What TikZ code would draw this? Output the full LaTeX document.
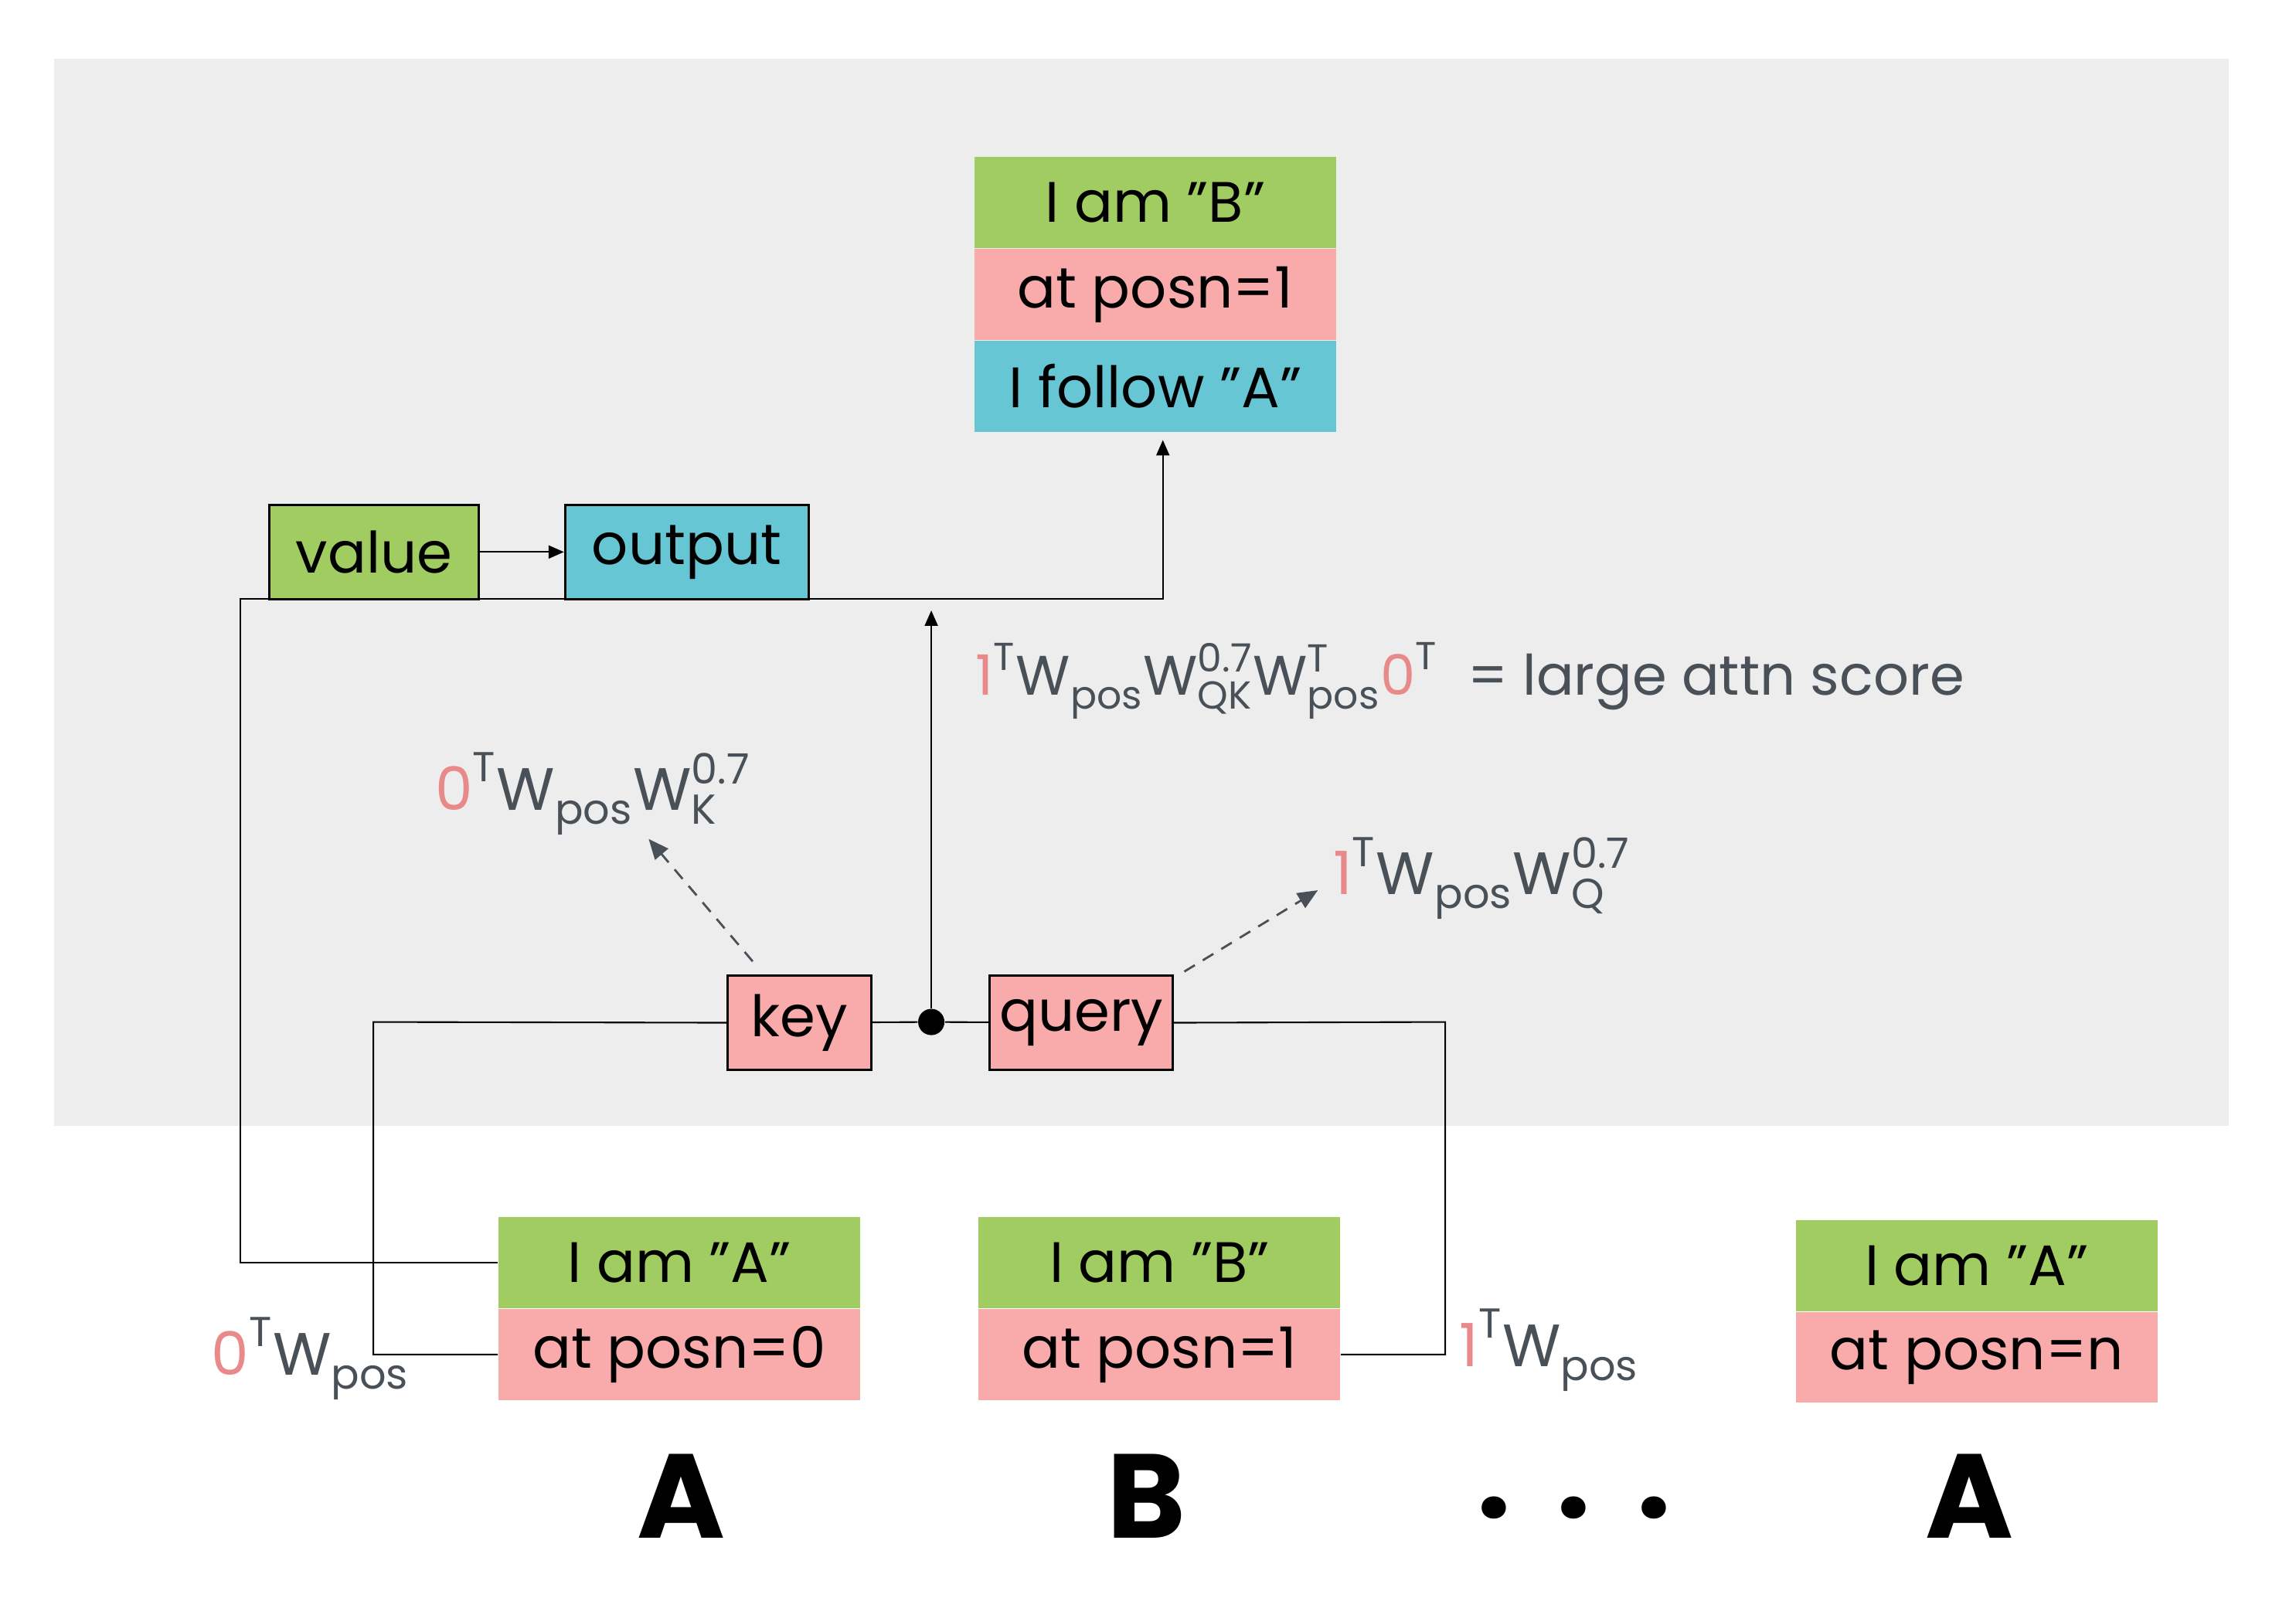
\documentclass[tikz,border=0pt]{standalone}
\usepackage{amsmath}
\usepackage{fontspec}
\setmainfont{Poppins}
\usetikzlibrary{arrows.meta,positioning}
\definecolor{bggrey}{HTML}{EDEDED}
\definecolor{idgreen}{HTML}{A1CC61}
\definecolor{pospink}{HTML}{F9ABAB}
\definecolor{prevblue}{HTML}{66C6D4}
\definecolor{inkgrey}{HTML}{495057}
\definecolor{numred}{HTML}{E88A8A}
% token index with a transpose mark, and a weight matrix
\newcommand{\tpos}[1]{\text{\textcolor{numred}{#1}}^{\text{T}}}
\newcommand{\wmat}[2]{\text{W}_{\text{#1}}^{\text{#2}}}
\tikzset{tokenrow/.style={
    % The shape:
    rectangle,
    % The size:
    minimum width=46.8mm,
    minimum height=11.75mm,
    inner sep=0pt,
    % Font
    font=\fontsize{21}{25}\selectfont
    },
    idrow/.style={tokenrow, fill=idgreen},
    posrow/.style={tokenrow, fill=pospink},
    prevrow/.style={tokenrow, fill=prevblue},
    headbox/.style={
    rectangle,
    draw=black,
    line width=0.8pt,
    minimum height=12.2mm,
    inner sep=0pt,
    font=\fontsize{21}{25}\selectfont
    },
    joindot/.style={circle, fill=black, inner sep=0pt, minimum size=3.4mm},
    projlabel/.style={inner sep=0pt, text=inkgrey, font=\fontsize{22}{26}\selectfont},
    bigletter/.style={inner sep=0pt, font=\fontsize{44}{48}\selectfont\bfseries},
    wire/.style={draw=black, line width=0.6pt},
    hint/.style={draw=inkgrey, line width=0.8pt, dash pattern=on 1.6mm off 1.2mm,
      -{Triangle[length=2.6mm,width=2.2mm]}},
}
\begin{document}
\begin{tikzpicture}[x=0.18948mm, y=-0.18948mm, node distance=0mm and 0mm,
    tip/.style={-{Triangle[length=2mm,width=1.7mm]}}]
    \useasboundingbox (0,0) rectangle (1568,1091);
    \fill[bggrey] (37,40) rectangle (1522,769);

    % output token
    \node (outid)   [idrow, anchor=north west] at (665,107) {I am "B"};
    \node (outpos)  [posrow, below=of outid]   {at posn=1};
    \node (outprev) [prevrow, below=of outpos] {I follow "A"};

    % input tokens
    \node (aid)  [idrow, anchor=north west] at (340,831) {I am "A"};
    \node (apos) [posrow, below=of aid]     {at posn=0};
    \node (bid)  [idrow, anchor=north west] at (668,831) {I am "B"};
    \node (bpos) [posrow, below=of bid]     {at posn=1};
    \node (nid)  [idrow, anchor=north west] at (1226,833) {I am "A"};
    \node (npos) [posrow, below=of nid]     {at posn=n};

    \node (alab) [projlabel] at (212,928)  {$\tpos{0}\wmat{pos}{}$};
    \node (blab) [projlabel] at (1058,922) {$\tpos{1}\wmat{pos}{}$};

    \node (letA) [bigletter] at (465,1022)  {A};
    \node (letB) [bigletter] at (783,1022)  {B};
    \node (dots) [bigletter] at (1075,1030) {.\hspace{6mm}.\hspace{6mm}.};
    \node (letN) [bigletter] at (1345,1022) {A};

    % head
    \node (value)  [headbox, fill=idgreen, minimum width=27.1mm]  at (255.5,377) {value};
    \node (output) [headbox, fill=prevblue, minimum width=31.5mm] at (469,377)   {output};
    \node (key)    [headbox, fill=pospink, minimum width=18.6mm]  at (546,698.5) {key};
    \node (query)  [headbox, fill=pospink, minimum width=23.7mm]  at (738.5,698.5) {query};
    \node (sum)    [joindot] at (636,698) {};

    \node (kproj) [projlabel] at (405,542) {$\tpos{0}\wmat{pos}{}\wmat{K}{0.7}$};
    \node (qproj) [projlabel] at (1012,600) {$\tpos{1}\wmat{pos}{}\wmat{Q}{0.7}$};
    \node (score) [projlabel, anchor=west, font=\fontsize{20.5}{24}\selectfont] at (666,465)
      {$\tpos{1}\wmat{pos}{}\wmat{QK}{0.7}\wmat{pos}{T}\tpos{0}$ \ = large attn score};

    \coordinate (vturn) at (164,409);
    \coordinate (kturn) at (255,698);
    \coordinate (qturn) at (987,698);
    \coordinate (ktip)  at (443,573);
    \coordinate (qtip)  at (900,608);

    \draw[wire, tip] (value) -- (output);
    \draw[wire, tip, shorten >=1mm] (aid.west) -| (vturn) -| ([xshift=1mm]outprev.south);
    \draw[wire] (key) -- (sum) -- (query);
    \draw[wire, tip, shorten >=1.5mm] (sum) -- (sum |- vturn);
    \draw[wire] (key.west) -- (kturn) |- (apos.west);
    \draw[wire] (query.east) -- (qturn) |- (bpos.east);

    \draw[hint] ([shift={(-32,-9)}]key.north) -- (ktip);
    \draw[hint] ([shift={(7,-2)}]query.north east) -- (qtip);
  \end{tikzpicture}
\end{document}
